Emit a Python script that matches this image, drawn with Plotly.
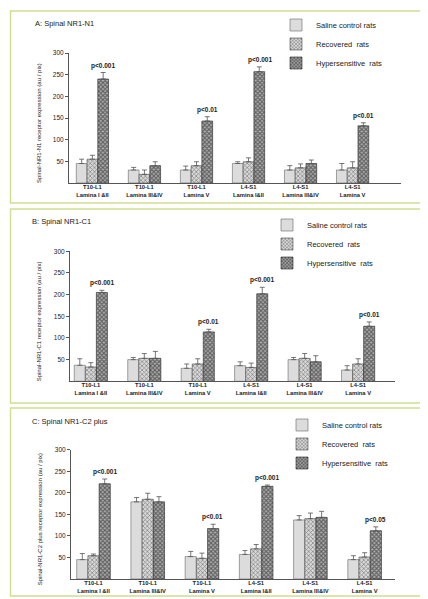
import plotly.graph_objects as go

W, H = 428, 599

categories = ["T10-L1 Lamina I&II", "T10-L1 Lamina III&IV", "T10-L1 Lamina V",
              "L4-S1 Lamina I&II", "L4-S1 Lamina III&IV", "L4-S1 Lamina V"]
tick_labels = ["T10-L1<br>Lamina I &II", "T10-L1<br>Lamina III&IV", "T10-L1<br>Lamina V",
               "L4-S1<br>Lamina I&II", "L4-S1<br>Lamina III&IV", "L4-S1<br>Lamina V"]
groups = ["Saline control rats", "Recovered  rats", "Hypersensitive  rats"]

# Panel A: Spinal NR1-N1
a_saline = [45, 30, 30, 45, 30, 30]
a_saline_err = [10, 6, 9, 4, 10, 15]
a_recovered = [55, 20, 40, 49, 35, 35]
a_recovered_err = [9, 10, 9, 9, 9, 14]
a_hyper = [240, 40, 143, 257, 45, 132]
a_hyper_err = [15, 9, 10, 11, 8, 7]
a_p = ["p<0.001", "", "p<0.01", "p<0.001", "", "p<0.01"]

# Panel B: Spinal NR1-C1
b_saline = [37, 50, 30, 36, 50, 26]
b_saline_err = [15, 5, 10, 9, 5, 10]
b_recovered = [33, 53, 40, 32, 53, 40]
b_recovered_err = [10, 11, 12, 10, 11, 12]
b_hyper = [205, 53, 114, 202, 45, 127]
b_hyper_err = [5, 16, 6, 15, 14, 10]
b_p = ["p<0.001", "", "p<0.01", "p<0.001", "", "p<0.01"]

# Panel C: Spinal NR1-C2 plus
c_saline = [45, 179, 52, 57, 137, 45]
c_saline_err = [14, 10, 12, 9, 10, 9]
c_recovered = [54, 185, 48, 70, 140, 51]
c_recovered_err = [4, 14, 12, 10, 13, 10]
c_hyper = [221, 179, 117, 215, 143, 112]
c_hyper_err = [11, 12, 10, 3, 14, 9]
c_p = ["p<0.001", "", "p<0.01", "p<0.001", "", "p<0.05"]

y_ticks = [50, 100, 150, 200, 250, 300]

def px_x(v):
    return v / W

def px_y(v):
    return 1 - v / H

FONT = "Liberation Sans, Arial, sans-serif"
BORDER = "#cfe08f"

styles = [
    dict(color="#dcdcdc", line=dict(color="#666666", width=0.6)),
    dict(color="#d0d0d0", line=dict(color="#444444", width=0.6),
         pattern=dict(shape="x", fgcolor="#3a3a3a", bgcolor="#d8d8d8", size=3, solidity=0.45)),
    dict(color="#666666", line=dict(color="#222222", width=0.6),
         pattern=dict(shape="x", fgcolor="#111111", bgcolor="#b0b0b0", size=3, solidity=0.6)),
]

panels = [
    dict(key="", title="A: Spinal NR1-N1",
         ytitle="Spinal-NR1-N1 receptor expression (au / pix)",
         data=[(a_saline, a_saline_err), (a_recovered, a_recovered_err), (a_hyper, a_hyper_err)],
         p=a_p, box=(3, 195), zero=175, top=45, xl=61, xr=393, xr_range=(-0.45, 5.93),
         title_xy=(25, 15), legend_xy=(268, 36), ytitle_x=31),
    dict(key="2", title="B: Spinal NR1-C1",
         ytitle="Spinal-NR1-C1 receptor expression (au / pix)",
         data=[(b_saline, b_saline_err), (b_recovered, b_recovered_err), (b_hyper, b_hyper_err)],
         p=b_p, box=(201, 395), zero=373.3, top=243.3, xl=62, xr=387, xr_range=(-0.39, 5.69),
         title_xy=(22, 213), legend_xy=(259, 236), ytitle_x=31),
    dict(key="3", title="C: Spinal NR1-C2 plus",
         ytitle="Spinal-NR1-C2 plus receptor expression (au / pix)",
         data=[(c_saline, c_saline_err), (c_recovered, c_recovered_err), (c_hyper, c_hyper_err)],
         p=c_p, box=(400, 588), zero=571, top=441.7, xl=63, xr=387, xr_range=(-0.415, 5.56),
         title_xy=(22, 413), legend_xy=(274, 436), ytitle_x=32),
]

fig = go.Figure()
shapes = []
annotations = []
layout_extra = {}

for i, pnl in enumerate(panels):
    k = pnl["key"]
    xa = "x" + k
    ya = "y" + k
    leg = "legend" + k
    for j, (vals, errs) in enumerate(pnl["data"]):
        fig.add_trace(go.Bar(
            x=categories, y=vals, name=groups[j],
            xaxis=xa, yaxis=ya, legend=leg, showlegend=True,
            marker=styles[j],
            error_y=dict(type="data", array=errs, arrayminus=[0] * len(errs), symmetric=False,
                         color="#555555", thickness=0.8, width=2.5),
        ))
    hyper_vals, hyper_errs = pnl["data"][2]
    for c, txt, v, e in zip(categories, pnl["p"], hyper_vals, hyper_errs):
        if txt:
            annotations.append(dict(
                x=c, y=v + e, xref=xa, yref=ya, text="<b>" + txt + "</b>",
                showarrow=False, yanchor="bottom", xshift=11, yshift=1,
                font=dict(family=FONT, size=6.5, color="#222222")))
    # panel title
    annotations.append(dict(
        x=px_x(pnl["title_xy"][0]), y=px_y(pnl["title_xy"][1]), xref="paper", yref="paper",
        text=pnl["title"], showarrow=False, xanchor="left", yanchor="middle",
        font=dict(family=FONT, size=7.5, color="#222222")))
    # y-axis title
    annotations.append(dict(
        x=px_x(pnl["ytitle_x"]), y=px_y((pnl["zero"] + pnl["top"]) / 2 + 5), xref="paper", yref="paper",
        text=pnl["ytitle"], showarrow=False, textangle=-90, xanchor="center", yanchor="middle",
        font=dict(family=FONT, size=6, color="#222222")))
    # panel border
    shapes.append(dict(type="rect", xref="paper", yref="paper",
                       x0=px_x(2.5), x1=px_x(421.5), y0=px_y(pnl["box"][1]), y1=px_y(pnl["box"][0]),
                       line=dict(color=BORDER, width=1.5)))
    xaxis_name = "xaxis" + k
    yaxis_name = "yaxis" + k
    layout_extra[xaxis_name] = dict(
        domain=[px_x(pnl["xl"]), px_x(pnl["xr"])], anchor=ya,
        type="category", categoryorder="array", categoryarray=categories,
        range=list(pnl["xr_range"]), tickvals=categories,
        ticktext=["<b>" + t.replace("<br>", "</b><br><b>") + "</b>" for t in tick_labels],
        showline=True, linecolor="#555555", linewidth=1, ticks="", ticklen=0,
        ticklabelstandoff=-2, showgrid=False, zeroline=False,
        tickfont=dict(family=FONT, size=5.8, color="#222222"), automargin=False, fixedrange=True)
    layout_extra[yaxis_name] = dict(
        domain=[px_y(pnl["zero"]), px_y(pnl["top"])], anchor=xa,
        range=[0, 300], tickvals=y_ticks, ticktext=[str(t) for t in y_ticks],
        showline=True, linecolor="#555555", linewidth=1, ticks="outside", ticklen=3,
        tickcolor="#555555", showgrid=False, zeroline=False,
        tickfont=dict(family=FONT, size=6.5, color="#222222"), automargin=False, fixedrange=True)
    layout_extra[leg] = dict(
        x=px_x(pnl["legend_xy"][0]), y=px_y(pnl["legend_xy"][1]), xref="paper", yref="paper",
        xanchor="left", yanchor="middle", bgcolor="rgba(0,0,0,0)",
        font=dict(family=FONT, size=7.5, color="#222222"), traceorder="normal")

fig.update_layout(
    width=W, height=H, margin=dict(l=0, r=0, t=0, b=0),
    paper_bgcolor="white", plot_bgcolor="white",
    barmode="group", bargap=0.38, bargroupgap=0,
    shapes=shapes, annotations=annotations,
    font=dict(family=FONT, color="#222222"),
    **layout_extra,
)

fig.write_html("out.html")
